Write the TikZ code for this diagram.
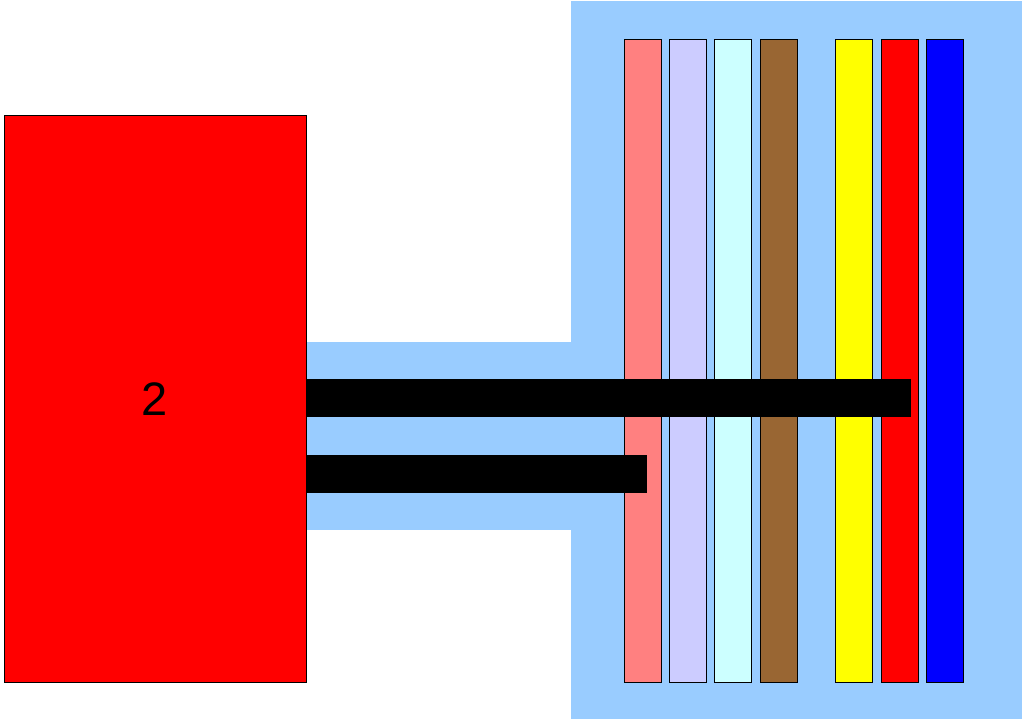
\documentclass[tikz,border=0pt]{standalone}
\usepackage{fontspec}
\setmainfont{Liberation Sans}
\definecolor{skyb}{HTML}{99CCFF}
\definecolor{pinkb}{HTML}{FF8080}
\definecolor{lavb}{HTML}{CCCCFF}
\definecolor{cyanb}{HTML}{CCFFFF}
\definecolor{brownb}{HTML}{996633}
\definecolor{yellowb}{HTML}{FFFF00}
\definecolor{redb}{HTML}{FF0000}
\definecolor{blueb}{HTML}{0000FF}
\begin{document}
\begin{tikzpicture}[x=1pt,y=-1pt,
  bar/.style={draw=black,line width=0.8pt},
  region/.style={fill=skyb,draw=none}]
\useasboundingbox (0,0) rectangle (1025,721);
% background regions
\fill[region] (571,1) rectangle (1022,719);
\fill[region] (306,342) rectangle (571,530);
% red box
\draw[bar,fill=redb] (4,115) rectangle (306,682);
\node[font=\fontsize{47}{47}\selectfont] (lbl) at (155,399) {2};
% vertical bars
\foreach \x/\c [count=\i] in {624/pinkb,669/lavb,714/cyanb,760/brownb,835/yellowb,881/redb,926/blueb}{
  \draw[bar,fill=\c] (\x,39) rectangle ++(37.5,643);
}
% black bars
\fill[black] (306,379) rectangle (911,417);
\fill[black] (306,455) rectangle (647,493);
\end{tikzpicture}
\end{document}
